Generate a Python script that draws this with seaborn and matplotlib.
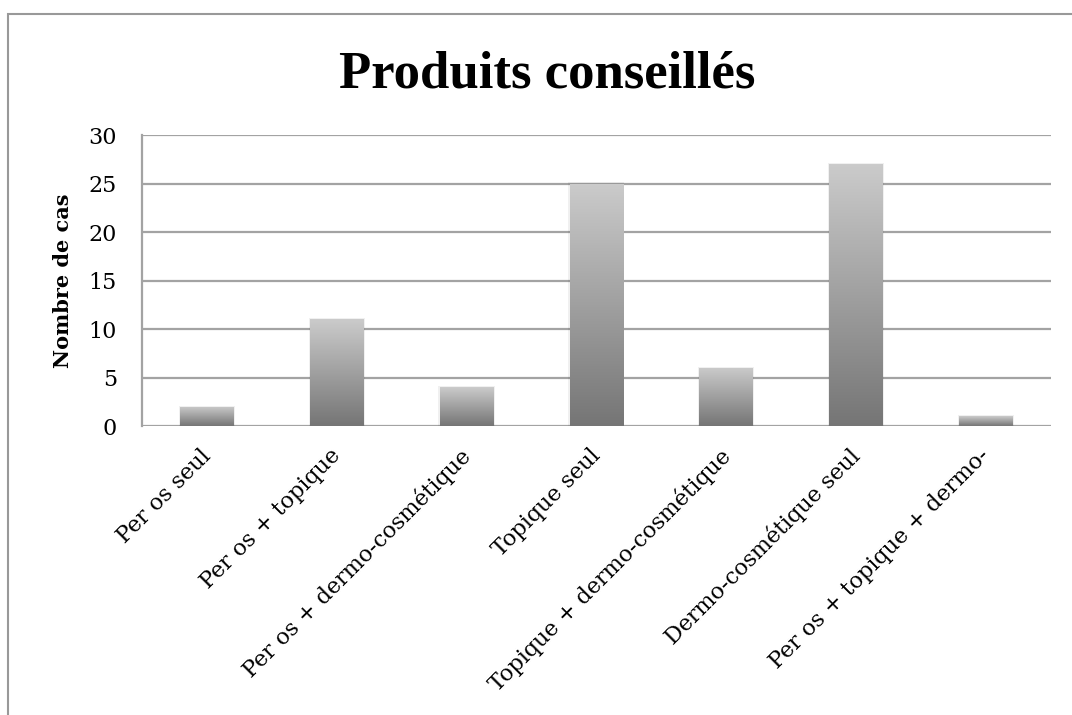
import numpy as np
import pandas as pd
import matplotlib
matplotlib.use("Agg")
import matplotlib.pyplot as plt
import matplotlib.patches as mpatches
import matplotlib.transforms as mtransforms
import seaborn as sns

# ── Data ──────────────────────────────────────────────────────────────────────
categories = [
    "Per os seul",
    "Per os + topique",
    "Per os + dermo-cosmétique",
    "Topique seul",
    "Topique + dermo-cosmétique",
    "Dermo-cosmétique seul",
    "Per os + topique + dermo-",
]
counts = [2, 11, 4, 25, 6, 27, 1]
y_ticks = [0, 5, 10, 15, 20, 25, 30]

GRID = "#a3a3a3"
FONT = ["DejaVu Serif", "Liberation Serif"]

sns.set_theme(style="white")
plt.rcParams["font.family"] = FONT
plt.rcParams.update({"text.color": "black", "xtick.color": "black",
                     "ytick.color": "black", "axes.labelcolor": "black"})

df = pd.DataFrame({"cat": categories, "n": counts})

fig = plt.figure(figsize=(10.72, 7.15), dpi=100)
ax = fig.add_axes([0.1325, 0.404, 0.8475, 0.407])

sns.barplot(data=df, x="cat", y="n", ax=ax, width=0.41, color="#999999",
            saturation=1, edgecolor="none", zorder=3)

# vertical gradient fill for each bar
grad = np.linspace(0, 1, 256).reshape(-1, 1)
cmap = matplotlib.colors.LinearSegmentedColormap.from_list("g", ["#757575", "#cbcbcb"])
for p in ax.patches:
    x0, y0 = p.get_x(), p.get_y()
    w, h = p.get_width(), p.get_height()
    # soft shadow
    sh = mpatches.Rectangle((x0 - 0.012, y0), w + 0.024, h + 0.12,
                            color="#000000", alpha=0.06, zorder=2, lw=0)
    ax.add_patch(sh)
    im = ax.imshow(grad, extent=[x0, x0 + w, y0, y0 + h], origin="lower",
                   cmap=cmap, aspect="auto", zorder=4)
    im.set_clip_path(p)
    p.set_alpha(0)

ax.set_xlim(-0.5, len(categories) - 0.5)
ax.set_ylim(0, 30)
ax.set_yticks(y_ticks)
ax.yaxis.grid(True, color=GRID, linewidth=1.6, zorder=0)
ax.set_axisbelow(True)
for s in ["top", "right", "bottom"]:
    ax.spines[s].set_visible(False)
ax.spines["left"].set_color(GRID)
ax.spines["left"].set_linewidth(1.6)
ax.tick_params(axis="y", length=0, pad=18, labelsize=16)
ax.tick_params(axis="x", length=0, pad=4)

ax.set_xticks(range(len(categories)))
ax.set_xticklabels(categories, rotation=45, ha="right", rotation_mode="anchor",
                   fontsize=16)
offset = mtransforms.ScaledTranslation(-0.07, -0.13, fig.dpi_scale_trans)
for lbl in ax.get_xticklabels():
    lbl.set_transform(lbl.get_transform() + offset)

ax.set_xlabel("")
ax.set_ylabel("Nombre de cas", fontsize=15, fontweight="bold")
ax.yaxis.set_label_coords(-0.076, 0.5)

fig.text(0.5107, 1 - 87 / 715, "Produits conseillés", ha="center", va="baseline",
         fontsize=38, fontweight="bold", family=["Liberation Serif", "DejaVu Serif"])

# outer chart frame (extends past right and bottom edges)
frame = mpatches.Rectangle((8 / 1072, -0.1), 1.2, 1 - 14 / 715 + 0.1,
                           transform=fig.transFigure, fill=False,
                           edgecolor="#999999", linewidth=1.5)
fig.patches.append(frame)

fig.savefig("out.png", dpi=100, facecolor="white")
plt.close(fig)
